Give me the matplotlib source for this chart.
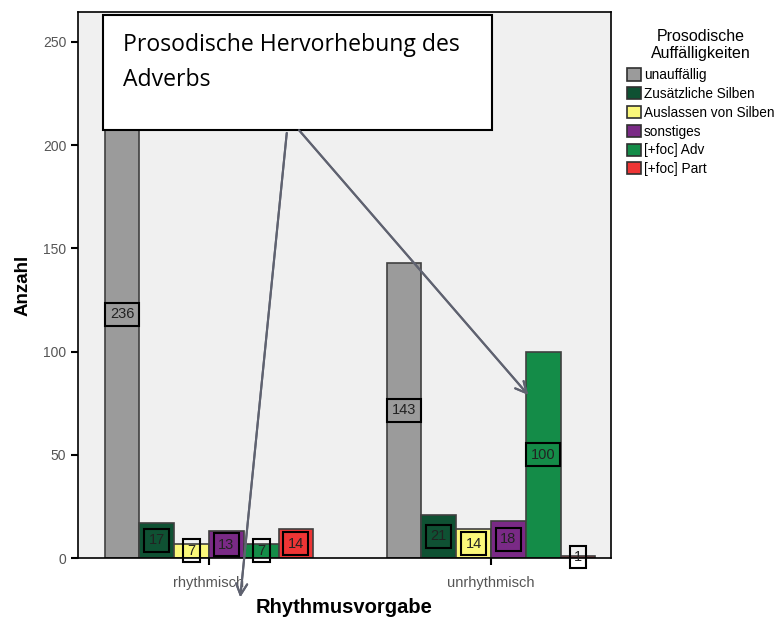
import matplotlib.pyplot as plt
from matplotlib.patches import Rectangle, Patch
import numpy as np

plt.rcParams['font.family'] = ['Liberation Sans', 'DejaVu Sans']

groups = ['rhythmisch', 'unrhythmisch']
categories = ['unauffällig', 'Zusätzliche Silben', 'Auslassen von Silben',
              'sonstiges', '[+foc] Adv', '[+foc] Part']
rhythmisch = [236, 17, 7, 13, 7, 14]
unrhythmisch = [143, 21, 14, 18, 100, 1]
colors = ['#9b9b9b', '#0f5133', '#fbf87a', '#7a2a86', '#148c48', '#ee3535']

counts = np.array([rhythmisch, unrhythmisch])
x = np.arange(len(groups))
w = 0.1234

fig = plt.figure(figsize=(7.8, 6.17), dpi=100)
ax = fig.add_axes([0.1, 0.0956, 0.6833, 0.885])
ax.set_facecolor('#f0f0f0')

for i, cat in enumerate(categories):
    pos = x + (i - 2.5) * w
    vals = counts[:, i]
    ax.bar(pos, vals, w, color=colors[i], edgecolor='#404040', linewidth=1.2, zorder=2)
    for p, v in zip(pos, vals):
        ax.text(p, v / 2, str(v), ha='center', va='center', fontsize=10.5, color='#222222',
                bbox=dict(boxstyle='square,pad=0.3', fc='none', ec='black', lw=1.5), zorder=3)

ax.set_xlim(-0.4645, 1.4255)
ax.set_ylim(0, 264.5)
ax.set_yticks([0, 50, 100, 150, 200, 250])
ax.set_xticks(x)
ax.set_xticklabels(groups)
ax.tick_params(axis='both', labelcolor='#555555', length=5, width=1.5, color='black')
ax.tick_params(axis='y', labelsize=10)
ax.tick_params(axis='x', labelsize=10.5, pad=8)
for s in ax.spines.values():
    s.set_linewidth(1.2)
ax.set_ylabel('Anzahl', fontsize=13.5, fontweight='bold')
ax.set_xlabel('Rhythmusvorgabe', fontsize=14.5, fontweight='bold')
ax.yaxis.set_label_coords(-0.103, 0.5)
ax.xaxis.set_label_coords(0.5, -0.09)
ax.xaxis.label.set_va('center')
ax.yaxis.label.set_va('center')

handles = [Patch(facecolor=c, edgecolor='#303030', linewidth=1.2) for c in colors]
leg = fig.legend(handles, categories, loc='upper left', bbox_to_anchor=(0.797, 0.962),
                 frameon=False, fontsize=9.8, title='Prosodische\nAuffälligkeiten',
                 title_fontsize=11.5, handlelength=1.0, handleheight=1.0,
                 handletextpad=0.25, labelspacing=0.35, borderaxespad=0)
leg.get_title().set_multialignment('center')
leg._legend_box.sep = 5

# callout box with arrows
fig.patches.append(Rectangle((0.132, 0.789), 0.4987, 0.1864, transform=fig.transFigure,
                             fc='white', ec='black', lw=1.5, zorder=5))
fig.text(0.158, 0.927, 'Prosodische Hervorhebung des', fontsize=16.6, family='Open Sans',
         va='center', zorder=6)
fig.text(0.158, 0.870, 'Adverbs', fontsize=16.6, family='Open Sans', va='center', zorder=6)

arrow = dict(arrowstyle='->,head_length=0.8,head_width=0.4', color='#5f6270', lw=1.5)
fig.add_artist(plt.annotate('', xy=(0.3077, 0.0276), xytext=(0.368, 0.789),
                            xycoords='figure fraction', arrowprops=arrow, zorder=7))
fig.add_artist(plt.annotate('', xy=(0.6795, 0.3566), xytext=(0.381, 0.7925),
                            xycoords='figure fraction', arrowprops=arrow, zorder=7))

fig.savefig('out.png', dpi=100)
